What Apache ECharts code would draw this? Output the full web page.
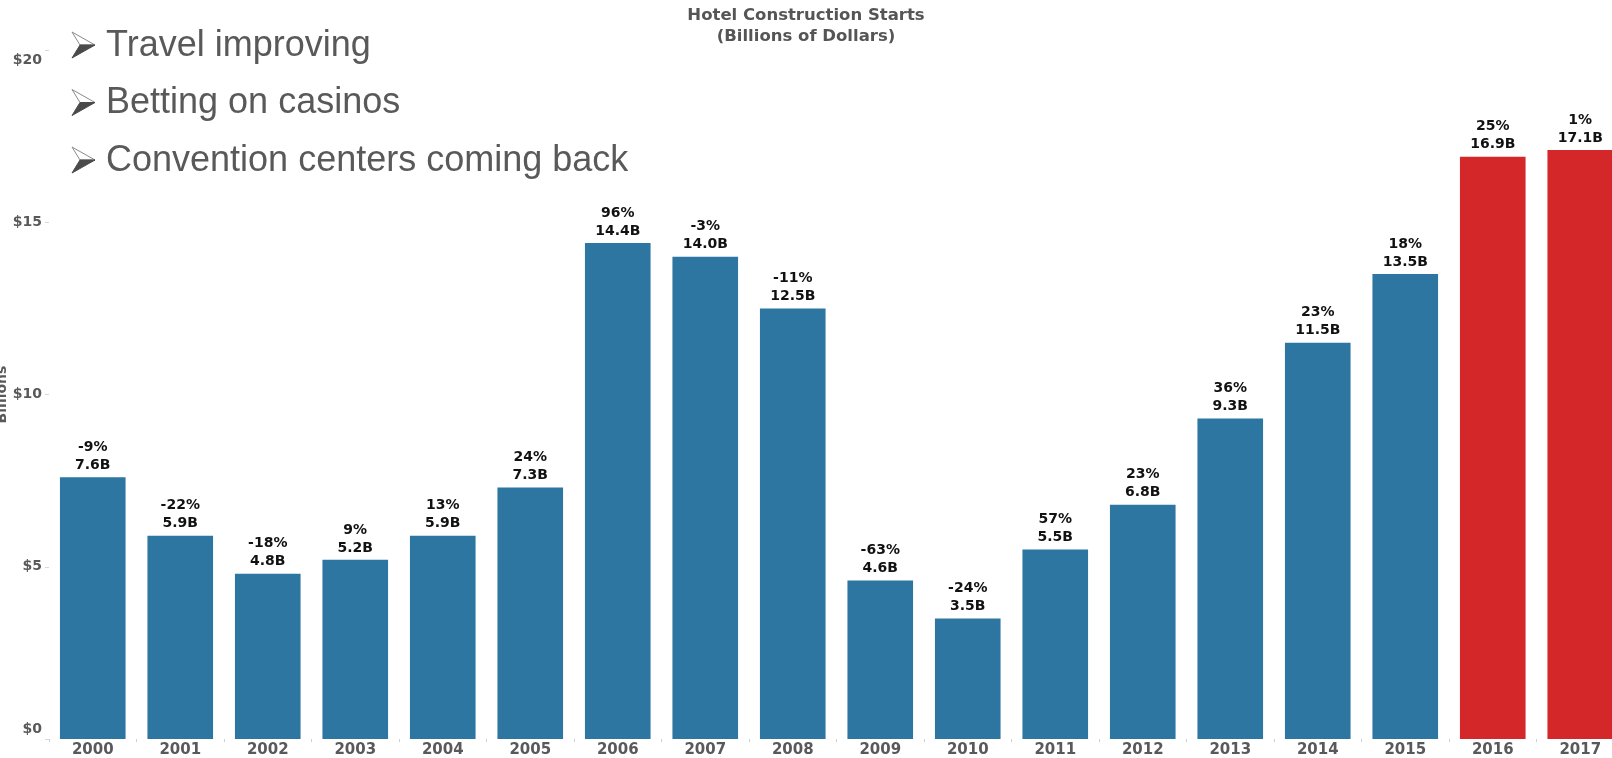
<!DOCTYPE html>
<html>
<head>
<meta charset="utf-8">
<script src="https://cdn.jsdelivr.net/npm/echarts@6/dist/echarts.min.js"></script>
<style>
  html, body { margin: 0; padding: 0; background: #fff; }
  #chart { width: 1612px; height: 758px; }
</style>
</head>
<body>
<div id="chart"></div>
<script>
// Hotel construction starts, billions of dollars, with year-over-year change
const years = ['2000','2001','2002','2003','2004','2005','2006','2007','2008',
               '2009','2010','2011','2012','2013','2014','2015','2016','2017'];
const starts = [7.6, 5.9, 4.8, 5.2, 5.9, 7.3, 14.4, 14.0, 12.5,
                4.6, 3.5, 5.5, 6.8, 9.3, 11.5, 13.5, 16.9, 17.1];
const changes = [-9, -22, -18, 9, 13, 24, 96, -3, -11,
                 -63, -24, 57, 23, 36, 23, 18, 25, 1];
const forecastYears = ['2016', '2017'];
const yTicks = [0, 5, 10, 15, 20];
const bullets = ['Travel improving', 'Betting on casinos', 'Convention centers coming back'];

const BLUE = '#2d76a1';
const RED = '#d42729';
const GREY = '#595959';
const BODY_FONT = '"Liberation Sans", Arial, sans-serif';
const CHART_FONT = '"DejaVu Sans", Verdana, sans-serif';

const chart = echarts.init(document.getElementById('chart'));

const barData = starts.map((v, i) => ({
  value: v,
  itemStyle: { color: forecastYears.includes(years[i]) ? RED : BLUE }
}));

// Bullet list: a shaded arrowhead marker followed by the text line
const bulletTop = 45, bulletStep = 57.5;
const bulletGraphics = [];
bullets.forEach((t, i) => {
  const cy = bulletTop + i * bulletStep;
  bulletGraphics.push({
    type: 'group',
    x: 72, y: cy,
    children: [
      { type: 'polygon', shape: { points: [[0, -13], [23, 0], [8, 0]] },
        style: { fill: '#fff', stroke: '#8a8a8a', lineWidth: 1 } },
      { type: 'polygon', shape: { points: [[8, 0], [23, 0], [0, 13]] },
        style: { fill: '#4a4a4a', stroke: '#4a4a4a', lineWidth: 1 } }
    ]
  });
  bulletGraphics.push({
    type: 'text',
    x: 106, y: cy + 1,
    style: {
      text: t,
      font: '36px ' + BODY_FONT,
      fill: GREY,
      textVerticalAlign: 'middle'
    }
  });
});

chart.setOption({
  animation: false,
  backgroundColor: '#fff',
  title: {
    text: 'Hotel Construction Starts\n(Billions of Dollars)',
    left: 'center',
    top: 0,
    textStyle: {
      fontFamily: CHART_FONT, fontSize: 16.5, fontWeight: 'bold', color: '#555', lineHeight: 21
    }
  },
  grid: { left: 49, right: -12, top: 50, bottom: 19, containLabel: false, outerBoundsMode: 'none' },
  xAxis: {
    type: 'category',
    data: years,
    axisLine: { show: false },
    axisTick: { show: true, length: 3, lineStyle: { color: '#d0d0d0' } },
    axisLabel: {
      margin: 4, fontFamily: CHART_FONT, fontSize: 15, fontWeight: 'bold', color: GREY
    }
  },
  yAxis: {
    type: 'value',
    min: 0, max: 20, interval: 5,
    name: 'Billions',
    nameLocation: 'middle',
    nameGap: 40,
    nameRotate: 90,
    nameMoveOverlap: false,
    nameTextStyle: { fontFamily: CHART_FONT, fontSize: 14, fontWeight: 'bold', color: GREY },
    splitLine: { show: false },
    axisLine: { show: false },
    axisTick: { show: true, length: 4, lineStyle: { color: '#d8d8d8' } },
    axisLabel: {
      margin: 7,
      fontFamily: CHART_FONT, fontSize: 14, fontWeight: 'bold', color: GREY,
      lineHeight: 20,
      verticalAlignMinLabel: 'bottom',
      verticalAlignMaxLabel: 'top',
      formatter: v => yTicks.includes(v) ? '$' + v : ''
    }
  },
  graphic: bulletGraphics,
  series: [{
    type: 'bar',
    data: barData,
    barCategoryGap: '25%',
    label: {
      show: true,
      position: 'top',
      distance: 3,
      fontFamily: CHART_FONT, fontSize: 14, fontWeight: 'bold', color: '#111', lineHeight: 18,
      formatter: p => changes[p.dataIndex] + '%\n' + starts[p.dataIndex].toFixed(1) + 'B'
    }
  }]
});
</script>
</body>
</html>
